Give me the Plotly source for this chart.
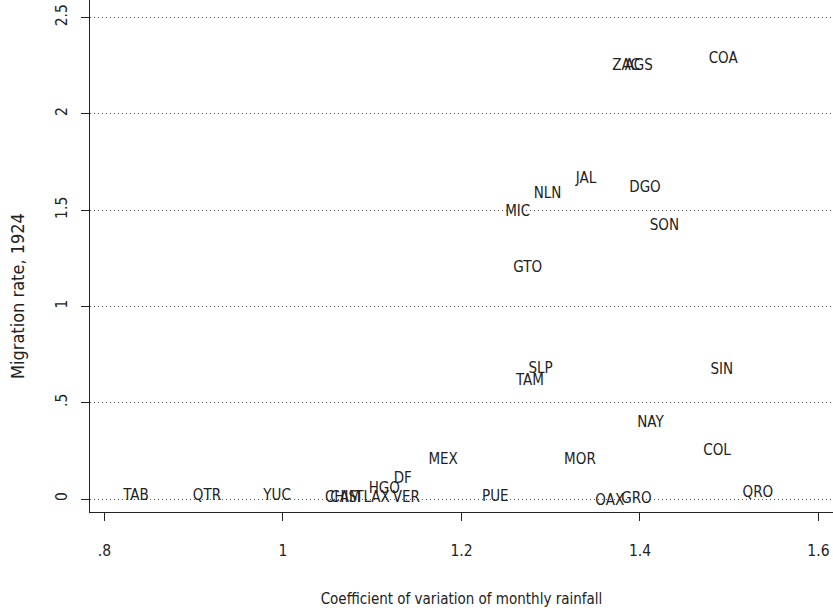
import plotly.graph_objects as go

# State labels and values (coefficient of variation of monthly rainfall, migration rate 1924)
states = ["TAB", "QTR", "YUC", "CHIS", "CAM", "TLAX", "VER", "HGO", "DF", "MEX", "PUE",
          "MOR", "OAX", "GRO", "QRO", "COL", "NAY", "SIN", "SLP", "TAM", "GTO", "MIC",
          "NLN", "JAL", "DGO", "SON", "ZAC", "AGS", "COA"]
cv_rain = [0.821, 0.899, 0.978, 1.047, 1.053, 1.081, 1.123, 1.096, 1.124, 1.163, 1.223,
           1.315, 1.350, 1.379, 1.515, 1.471, 1.397, 1.479, 1.275, 1.261, 1.258, 1.249,
           1.281, 1.328, 1.388, 1.411, 1.369, 1.383, 1.477]
migration = [0.016, 0.016, 0.016, 0.005, 0.005, 0.005, 0.005, 0.049, 0.104, 0.203, 0.010,
             0.203, -0.010, 0.000, 0.031, 0.249, 0.395, 0.670, 0.675, 0.613, 1.199, 1.490,
             1.584, 1.661, 1.615, 1.417, 2.246, 2.246, 2.282]

x_ticks = [0.8, 1.0, 1.2, 1.4, 1.6]
x_ticktext = [".8", "1", "1.2", "1.4", "1.6"]
y_ticks = [0, 0.5, 1, 1.5, 2, 2.5]
y_ticktext = ["0", ".5", "1", "1.5", "2", "2.5"]

FONT = "DejaVu Sans Condensed, Liberation Sans Narrow, Roboto, Liberation Sans, sans-serif"
INK = "#222222"

fig = go.Figure()
fig.add_trace(go.Scatter(
    x=cv_rain, y=migration, text=states, mode="text",
    textposition="middle right",
    textfont=dict(family=FONT, size=15, color=INK),
    hoverinfo="text", showlegend=False,
))

fig.update_layout(
    width=833, height=612,
    margin=dict(l=90, r=0, t=0, b=100, autoexpand=False),
    paper_bgcolor="white", plot_bgcolor="white",
    font=dict(family=FONT, size=15, color=INK),
    xaxis=dict(
        range=[0.78375, 1.6163], automargin=False,
        tickvals=x_ticks, ticktext=x_ticktext,
        showgrid=False, zeroline=False,
        showline=True, linecolor=INK, linewidth=1.3,
        ticks="outside", ticklen=8, tickwidth=1.3, tickcolor=INK,
        ticklabelstandoff=16,
        tickfont=dict(family=FONT, size=15.5),
        title=dict(text="Coefficient of variation of monthly rainfall",
                   font=dict(family=FONT, size=15), standoff=34),
    ),
    yaxis=dict(
        range=[-0.0675, 2.591], automargin=False,
        tickvals=y_ticks, ticktext=y_ticktext, tickangle=-90,
        showgrid=True, gridcolor="#555555", griddash="1px,3px", gridwidth=1,
        zeroline=False,
        showline=True, linecolor=INK, linewidth=1.3,
        ticks="outside", ticklen=8, tickwidth=1.3, tickcolor=INK,
        ticklabelstandoff=8,
        tickfont=dict(family=FONT, size=15.5),
    ),
    annotations=[dict(
        text="Migration rate, 1924", textangle=-90,
        xref="paper", yref="paper", x=-0.0969, y=0.4219,
        xanchor="center", yanchor="middle", showarrow=False,
        font=dict(family=FONT, size=18, color=INK),
    )],
)

fig.write_html("out.html",
               config={"displayModeBar": False},
               post_script="document.body.style.margin='0';document.body.style.overflow='hidden';")
